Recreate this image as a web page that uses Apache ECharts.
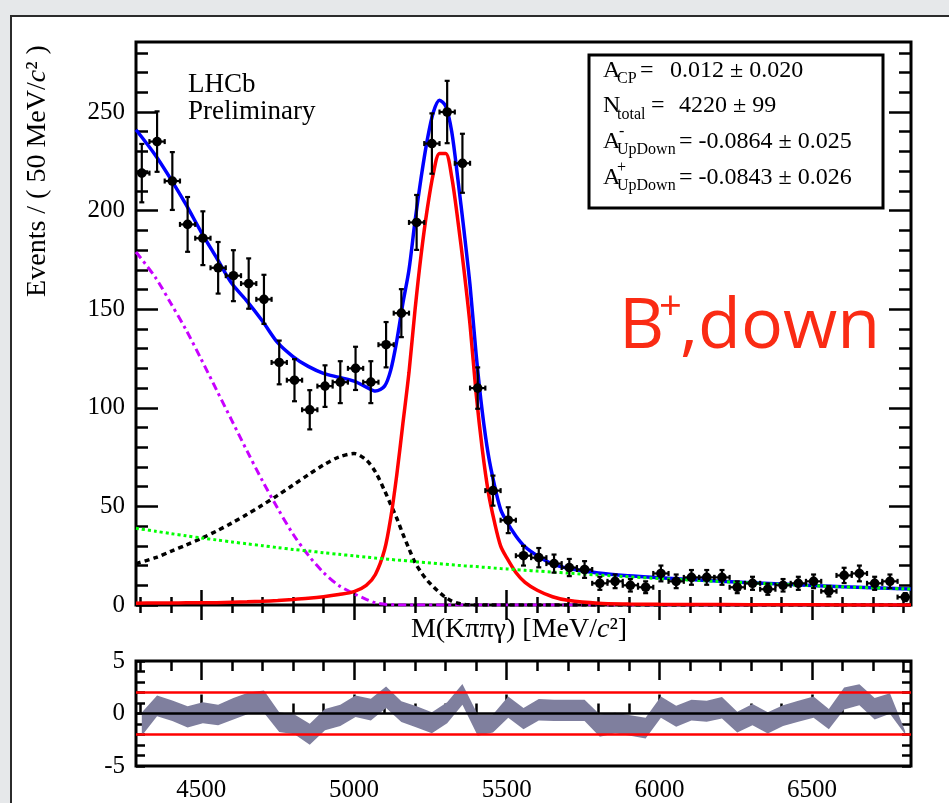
<!DOCTYPE html>
<html>
<head>
<meta charset="utf-8">
<script src="https://cdn.jsdelivr.net/npm/echarts@6/dist/echarts.min.js"></script>
<style>
html,body{margin:0;padding:0;width:949px;height:803px;overflow:hidden;background:#e6e8ea;}
#bg{position:absolute;left:10px;top:15px;width:960px;height:800px;background:#fff;border-left:2px solid #2b2b2b;border-top:2px solid #2b2b2b;}
#main{position:absolute;left:0;top:0;width:949px;height:803px;}
</style>
</head>
<body>
<div id="bg"></div>
<div id="main"></div>
<script>
// data points: 50 MeV bins
var binCenters = [4305,4355,4405,4455,4505,4555,4605,4655,4705,4755,4805,4855,4905,4955,5005,5055,5105,5155,5205,5255,5305,5355,5405,5455,5505,5555,5605,5655,5705,5755,5805,5855,5905,5955,6005,6055,6105,6155,6205,6255,6305,6355,6405,6455,6505,6555,6605,6655,6705,6755,6805];
var counts = [219,235,215,193,186,171,167,163,155,123,114,99,111,113,120,113,132,148,194,234,250,224,110,58,43,25,24,21,19,18,11,12,10,9,16,12,14,14,14,9,11,8,10,11,12,7,15,16,11,12,4];

// pull band (lower / upper edge)
var pullLow = [-2.12,-0.25,-0.72,-1.34,-0.94,-1.12,-0.56,-0.03,0.06,-1.75,-1.97,-2.97,-1.59,-1.19,-0.34,-0.66,0.53,-0.81,-1.34,-1.88,-0.94,0.84,-2.12,-1.81,-0.41,-1.5,-0.66,-0.72,-0.72,-0.72,-2.22,-1.88,-2.12,-2.38,-0.41,-1.25,-0.66,-0.78,-0.47,-1.81,-1.13,-1.91,-1.19,-0.78,-0.41,-1.5,0.38,0.78,-0.56,-0.03,-2.0];
var pullHigh = [0.1,1.72,1.25,0.69,1.06,0.84,1.47,2.0,2.19,0.13,-0.09,-0.97,0.44,0.84,1.72,1.41,2.56,1.16,0.69,0.13,1.06,2.81,-0.09,-0.09,1.63,0.53,1.38,1.31,1.31,1.31,-0.09,0.06,-0.16,-0.41,1.63,0.75,1.31,1.22,1.56,0.16,0.91,0.13,0.78,1.22,1.63,0.44,2.47,2.78,1.47,1.94,-1.7];

// fit curves
var fitX = [4286,4350,4400,4450,4500,4550,4600,4650,4700,4750,4800,4850,4900,4950,5000,5040,5070,5100,5120,5140,5160,5180,5200,5220,5240,5260,5280,5300,5320,5340,5360,5380,5400,5420,5440,5460,5480,5500,5530,5560,5600,5650,5700,5800,5900,6000,6200,6400,6600,6824];
var fitTotal = [241,228,216,203,189,176,163,154,144,133,126,121,117.5,115.5,113.5,110.5,108.5,111,119,134,153,170,195,217,236,250,256,253,240,216,190,162,127,98,76,60.7,48.5,42.3,35,29.5,25,20.8,18.6,16.2,14.8,13.8,12,10.6,9.3,8.1];
var fitSignal = [0.9,1.0,1.05,1.1,1.15,1.2,1.4,1.6,1.9,2.3,2.8,3.4,4.2,5.3,6.8,10,15.5,28,44,66,92,118,150,178,201,219,229,229,217,195,170,142,107,79,57,42,30,24,16.5,11.5,7.5,4.2,2.4,0.9,0.5,0.35,0.2,0.1,0.05,0.05];
var fitPartReco = [21,24,27.2,30.4,33.8,37.5,41.6,46,50.7,55.6,60.8,66,71,75,76.8,73.5,67.5,58,51,44,36,28.5,21.5,16.5,12.5,9.2,6.3,3.8,2.0,0.9,0.3,0.1,0,0,0,0,0,0,0,0,0,0,0,0,0,0,0,0,0,0];
var fitLowMass = [179,166,153,139.5,124.5,109,93.5,78,63,49,36,25.3,16.5,9.9,5.7,2.9,1.1,0.4,0.2,0.1,0,0,0,0,0,0,0,0,0,0,0,0,0,0,0,0,0,0,0,0,0,0,0,0,0,0,0,0,0,0];
var fitComb = [38.9,37.4,36.2,35.1,34.0,33.0,32.0,31.0,30.1,29.1,28.2,27.4,26.5,25.7,24.9,24.3,23.8,23.4,23.1,22.8,22.6,22.3,22.0,21.7,21.5,21.2,20.9,20.7,20.4,20.2,19.9,19.7,19.5,19.2,19.0,18.7,18.5,18.3,17.9,17.6,17.2,16.7,16.2,15.2,14.3,13.4,11.9,10.5,9.2,8.1];

// ticks
var xMajor = [4500,5000,5500,6000,6500];
var xMinor = [4300,4400,4600,4700,4800,4900,5100,5200,5300,5400,5600,5700,5800,5900,6100,6200,6300,6400,6600,6700,6800];
var yMajor = [0,50,100,150,200,250];
var yMinor = [10,20,30,40,60,70,80,90,110,120,130,140,160,170,180,190,210,220,230,240,260,270,280];
var pullTicks = [-5,-4,-3,-2,-1,0,1,2,3,4,5];
var pullLabels = [-5,0,5];

var SERIF = 'Liberation Serif';
var X_MIN = 4286, X_MAX = 6824;

var myChart = echarts.init(document.getElementById('main'));

function tickAxis(grid, pos, vals, len, extra) {
    var ax = {
        gridIndex: grid,
        type: 'value',
        position: pos,
        axisLine: {show: false},
        splitLine: {show: false},
        axisTick: {show: true, inside: true, length: len, customValues: vals,
            lineStyle: {color: '#000', width: 2.5}},
        axisLabel: {show: false}
    };
    for (var k in extra) ax[k] = extra[k];
    return ax;
}
function xr(o) { o.min = X_MIN; o.max = X_MAX; return o; }
function plain(v) { return String(v); }

var xAxes = [
    tickAxis(0, 'bottom', xMajor, 15, xr({})),
    tickAxis(0, 'bottom', xMinor, 8, xr({})),
    tickAxis(0, 'top', xMajor, 15, xr({})),
    tickAxis(0, 'top', xMinor, 8, xr({})),
    tickAxis(1, 'bottom', xMajor, 19, xr({})),
    tickAxis(1, 'bottom', xMinor, 10, xr({})),
    tickAxis(1, 'top', xMajor, 19, xr({})),
    tickAxis(1, 'top', xMinor, 10, xr({}))
];
xAxes[4].axisLabel = {show: true, customValues: xMajor, formatter: plain, fontFamily: SERIF, fontSize: 25, color: '#000', margin: 12};

var yAxes = [
    tickAxis(0, 'left', yMajor, 22, {min: 0, max: 285.5}),
    tickAxis(0, 'left', yMinor, 12, {min: 0, max: 285.5}),
    tickAxis(0, 'right', yMajor, 22, {min: 0, max: 285.5}),
    tickAxis(0, 'right', yMinor, 12, {min: 0, max: 285.5}),
    tickAxis(1, 'left', pullTicks, 9, {min: -5, max: 5}),
    tickAxis(1, 'right', pullTicks, 9, {min: -5, max: 5})
];
yAxes[0].axisLabel = {show: true, customValues: yMajor, formatter: plain, fontFamily: SERIF, fontSize: 25, color: '#000', margin: 11};
yAxes[4].axisLabel = {show: true, customValues: pullLabels, formatter: plain, fontFamily: SERIF, fontSize: 25, color: '#000', margin: 11};

function curve(vals) {
    return fitX.map(function (x, i) { return [x, vals[i]]; });
}
function lineSeries(name, vals, color, width, type, z) {
    return {
        name: name, type: 'line', xAxisIndex: 0, yAxisIndex: 0,
        data: curve(vals), showSymbol: false, smooth: 0.3, z: z,
        lineStyle: {color: color, width: width, type: type}
    };
}

function renderPoint(params, api) {
    var x = api.value(0), n = api.value(1);
    var e = Math.sqrt(n);
    var p = api.coord([x, n]);
    var pt = api.coord([x, n + e]);
    var pb = api.coord([x, Math.max(n - e, 0)]);
    var pl = api.coord([x - 25, n]);
    var pr = api.coord([x + 25, n]);
    var st = {stroke: '#000', lineWidth: 2.2};
    return {type: 'group', children: [
        {type: 'line', shape: {x1: p[0], y1: pt[1], x2: p[0], y2: pb[1]}, style: st},
        {type: 'line', shape: {x1: pl[0], y1: p[1], x2: pr[0], y2: p[1]}, style: st},
        {type: 'line', shape: {x1: p[0] - 2.5, y1: pt[1], x2: p[0] + 2.5, y2: pt[1]}, style: st},
        {type: 'line', shape: {x1: p[0] - 2.5, y1: pb[1], x2: p[0] + 2.5, y2: pb[1]}, style: st},
        {type: 'line', shape: {x1: pl[0], y1: p[1] - 2.5, x2: pl[0], y2: p[1] + 2.5}, style: st},
        {type: 'line', shape: {x1: pr[0], y1: p[1] - 2.5, x2: pr[0], y2: p[1] + 2.5}, style: st},
        {type: 'circle', shape: {cx: p[0], cy: p[1], r: 4.8}, style: {fill: '#000'}}
    ]};
}

function renderBand(params, api) {
    if (params.dataIndexInside !== 0) return null;
    var n = params.dataInsideLength;
    var pts = [];
    for (var i = 0; i < n; i++) pts.push(api.coord([api.value(0, i), api.value(2, i)]));
    for (var j = n - 1; j >= 0; j--) pts.push(api.coord([api.value(0, j), api.value(1, j)]));
    return {type: 'polygon', shape: {points: pts}, style: {fill: '#7f7f9e'}};
}

var txt = function (x, y, text, size, extra) {
    var s = {text: text, x: x, y: y, fill: '#000', font: size + 'px "' + SERIF + '"', verticalAlign: 'middle'};
    for (var k in extra) s[k] = extra[k];
    return {type: 'text', style: s, z: 20};
};
var titleRich = {
    n: {fontFamily: SERIF, fontSize: 28, fill: '#000'},
    i: {fontFamily: SERIF, fontSize: 28, fontStyle: 'italic', fill: '#000'}
};

var option = {
    animation: false,
    grid: [
        {left: 136, top: 42, width: 775, height: 563, show: true, borderColor: '#000', borderWidth: 3},
        {left: 136, top: 661, width: 775, height: 110, show: true, borderColor: '#000', borderWidth: 3}
    ],
    xAxis: xAxes,
    yAxis: yAxes,
    graphic: [
        // stats box
        {type: 'rect', shape: {x: 589, y: 55, width: 294, height: 153}, style: {fill: '#fff', stroke: '#000', lineWidth: 3}, z: 15},
        txt(603, 71, 'A', 24), txt(617, 79, 'CP', 16), txt(640, 71, '=', 24), txt(670, 71, '0.012 ± 0.020', 24),
        txt(603, 106, 'N', 24), txt(617, 115, 'total', 16), txt(651, 106, '=', 24), txt(679, 106, '4220 ± 99', 24),
        txt(603, 142, 'A', 24), txt(619, 132, '-', 16), txt(617, 150, 'UpDown', 16), txt(679, 142, '= -0.0864 ± 0.025', 24),
        txt(603, 178, 'A', 24), txt(617, 168, '+', 16), txt(617, 186, 'UpDown', 16), txt(679, 178, '= -0.0843 ± 0.026', 24),
        // LHCb label
        txt(188, 85, 'LHCb', 27), txt(188, 112, 'Preliminary', 27),
        // B+,down
        {type: 'text', z: 20, style: {text: 'B', x: 619, y: 328, fill: '#fa2b14', font: '70px "Open Sans"', verticalAlign: 'middle'}},
        {type: 'text', z: 20, style: {text: '+', x: 659, y: 309, fill: '#fa2b14', font: '40px "Open Sans"', verticalAlign: 'middle'}},
        {type: 'text', z: 20, style: {text: ',down', x: 680, y: 328, fill: '#fa2b14', font: '70px "Open Sans"', verticalAlign: 'middle'}},
        // axis titles
        {type: 'text', z: 20, x: 519, y: 630, style: {
            text: '{n|M(Kππγ) [MeV/}{i|c}{n|²]}', align: 'center', verticalAlign: 'middle', fill: '#000', rich: titleRich}},
        {type: 'text', z: 20, x: 38, y: 171, rotation: Math.PI / 2, style: {
            text: '{n|Events / ( 50 MeV/}{i|c}{n|² )}', align: 'center', verticalAlign: 'middle', fill: '#000', rich: titleRich}}
    ],
    series: [
        lineSeries('lowmass', fitLowMass, '#c800ff', 3, [8, 4, 3, 4], 3),
        lineSeries('partreco', fitPartReco, '#000', 3.5, [5, 4], 4),
        lineSeries('signal', fitSignal, '#ff0000', 3.5, 'solid', 5),
        lineSeries('total', fitTotal, '#0000ff', 3.5, 'solid', 6),
        lineSeries('comb', fitComb, '#00ff00', 3, [3, 3], 7),
        {
            name: 'data', type: 'custom', coordinateSystem: 'cartesian2d', xAxisIndex: 0, yAxisIndex: 0,
            data: binCenters.map(function (x, i) { return [x, counts[i]]; }),
            encode: {x: 0, y: 1}, renderItem: renderPoint, clip: true, z: 10
        },
        {
            name: 'pull', type: 'custom', coordinateSystem: 'cartesian2d', xAxisIndex: 4, yAxisIndex: 4,
            data: binCenters.map(function (x, i) { return [x, pullLow[i], pullHigh[i]]; }),
            encode: {x: 0, y: [1, 2]}, renderItem: renderBand, clip: true, z: 3
        },
        {
            name: 'ref', type: 'line', xAxisIndex: 4, yAxisIndex: 4, data: [], z: 8,
            markLine: {
                symbol: 'none', silent: true, label: {show: false},
                data: [
                    {yAxis: 2, lineStyle: {color: '#ff0000', width: 2.5, type: 'solid'}},
                    {yAxis: -2, lineStyle: {color: '#ff0000', width: 2.5, type: 'solid'}},
                    {yAxis: 0, lineStyle: {color: '#000', width: 2.5, type: 'solid'}}
                ]
            }
        }
    ]
};
myChart.setOption(option);
</script>
</body>
</html>
